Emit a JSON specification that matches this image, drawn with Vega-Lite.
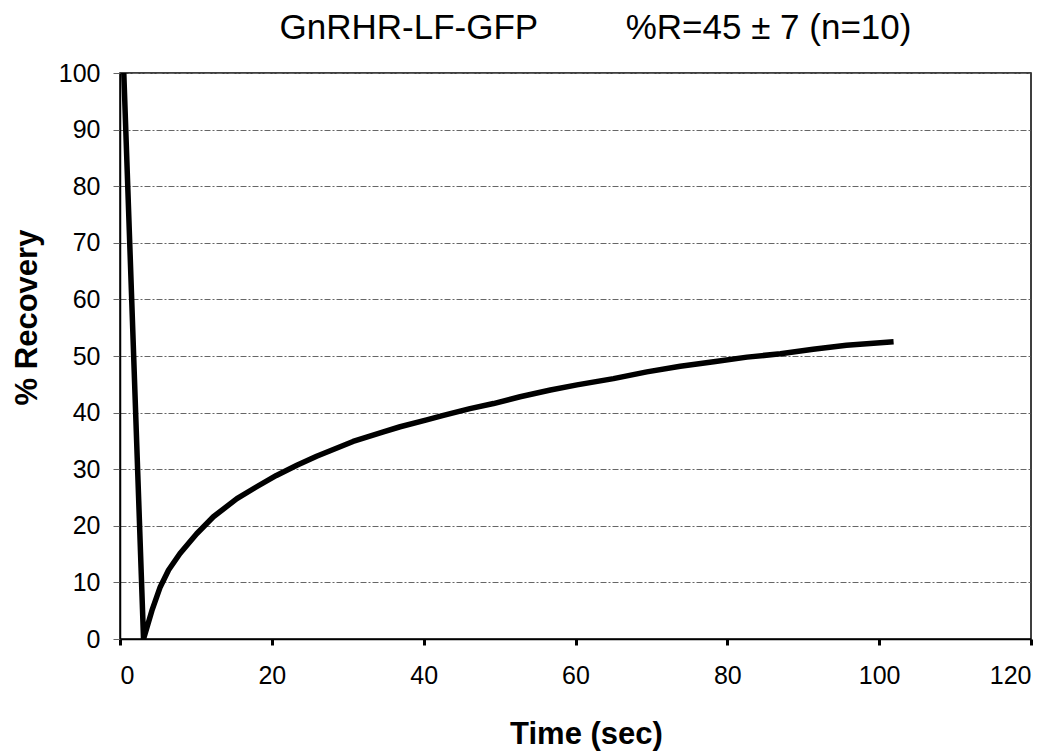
{
  "$schema": "https://vega.github.io/schema/vega-lite/v6.json",
  "width": 911,
  "height": 566,
  "autosize": {"type": "none"},
  "padding": {"left": 120, "top": 73, "right": 31, "bottom": 116},
  "background": "white",
  "title": {
    "text": "GnRHR-LF-GFP\u00a0\u00a0\u00a0\u00a0\u00a0\u00a0\u00a0\u00a0\u00a0%R=45 ± 7 (n=10)",
    "font": "Liberation Sans",
    "fontSize": 35,
    "fontWeight": "normal",
    "color": "black",
    "anchor": "middle",
    "baseline": "bottom",
    "offset": 22,
    "dx": 20,
    "dy": 42
  },
  "config": {
    "view": {"stroke": "black", "strokeWidth": 1.5},
    "axis": {
      "labelFont": "Liberation Sans",
      "titleFont": "Liberation Sans",
      "labelColor": "black",
      "titleColor": "black"
    }
  },
  "data": {
    "values": [
      {"t": 0.5, "r": 100},
      {"t": 3.1, "r": 0},
      {"t": 4.2, "r": 5.0},
      {"t": 5.3, "r": 9.2},
      {"t": 6.4, "r": 12.2},
      {"t": 7.9, "r": 15.1},
      {"t": 10.1, "r": 18.6},
      {"t": 12.3, "r": 21.6},
      {"t": 15.4, "r": 24.8},
      {"t": 18.0, "r": 26.9},
      {"t": 20.6, "r": 28.9},
      {"t": 23.3, "r": 30.7},
      {"t": 25.9, "r": 32.3},
      {"t": 29.4, "r": 34.2},
      {"t": 30.7, "r": 34.9},
      {"t": 34.7, "r": 36.6},
      {"t": 36.9, "r": 37.5},
      {"t": 40.4, "r": 38.7},
      {"t": 42.6, "r": 39.5},
      {"t": 46.1, "r": 40.7},
      {"t": 49.2, "r": 41.6},
      {"t": 52.7, "r": 42.8},
      {"t": 56.7, "r": 44.0},
      {"t": 60.2, "r": 44.9},
      {"t": 65.0, "r": 46.0},
      {"t": 69.4, "r": 47.2},
      {"t": 73.8, "r": 48.2},
      {"t": 78.2, "r": 49.0},
      {"t": 82.6, "r": 49.8},
      {"t": 87.0, "r": 50.4},
      {"t": 91.3, "r": 51.2},
      {"t": 95.7, "r": 51.9},
      {"t": 101.9, "r": 52.5}
    ]
  },
  "mark": {"type": "line", "color": "black", "strokeWidth": 5.5, "strokeJoin": "round", "clip": true},
  "encoding": {
    "x": {
      "field": "t",
      "type": "quantitative",
      "scale": {"domain": [0, 120], "nice": false, "zero": false},
      "axis": {
        "title": "Time (sec)",
        "values": [0, 20, 40, 60, 80, 100, 120],
        "grid": false,
        "domain": true,
        "domainColor": "black",
        "domainWidth": 1.5,
        "ticks": true,
        "tickSize": 6,
        "tickWidth": 3,
        "tickColor": "black",
        "labelFontSize": 25,
        "labelPadding": 18,
        "labelBaseline": "top",
        "titleFontSize": 31,
        "titleFontWeight": "bold",
        "titleBaseline": "alphabetic",
        "titleAlign": "center",
        "titleX": 466,
        "titleY": 104
      }
    },
    "y": {
      "field": "r",
      "type": "quantitative",
      "scale": {"domain": [0, 100], "nice": false},
      "axis": {
        "title": "% Recovery",
        "values": [0, 10, 20, 30, 40, 50, 60, 70, 80, 90, 100],
        "grid": true,
        "gridColor": "#666666",
        "gridDash": [6, 2, 2, 2],
        "gridWidth": 1,
        "domain": true,
        "domainColor": "black",
        "domainWidth": 1.5,
        "ticks": true,
        "tickSize": 7,
        "tickColor": "#666666",
        "tickWidth": 1,
        "labelFontSize": 25,
        "labelPadding": 13,
        "labelBaseline": "middle",
        "titleFontSize": 31,
        "titleFontWeight": "bold",
        "titleAngle": -90,
        "titleAlign": "center",
        "titleBaseline": "middle",
        "titleX": -93,
        "titleY": 244
      }
    }
  }
}
